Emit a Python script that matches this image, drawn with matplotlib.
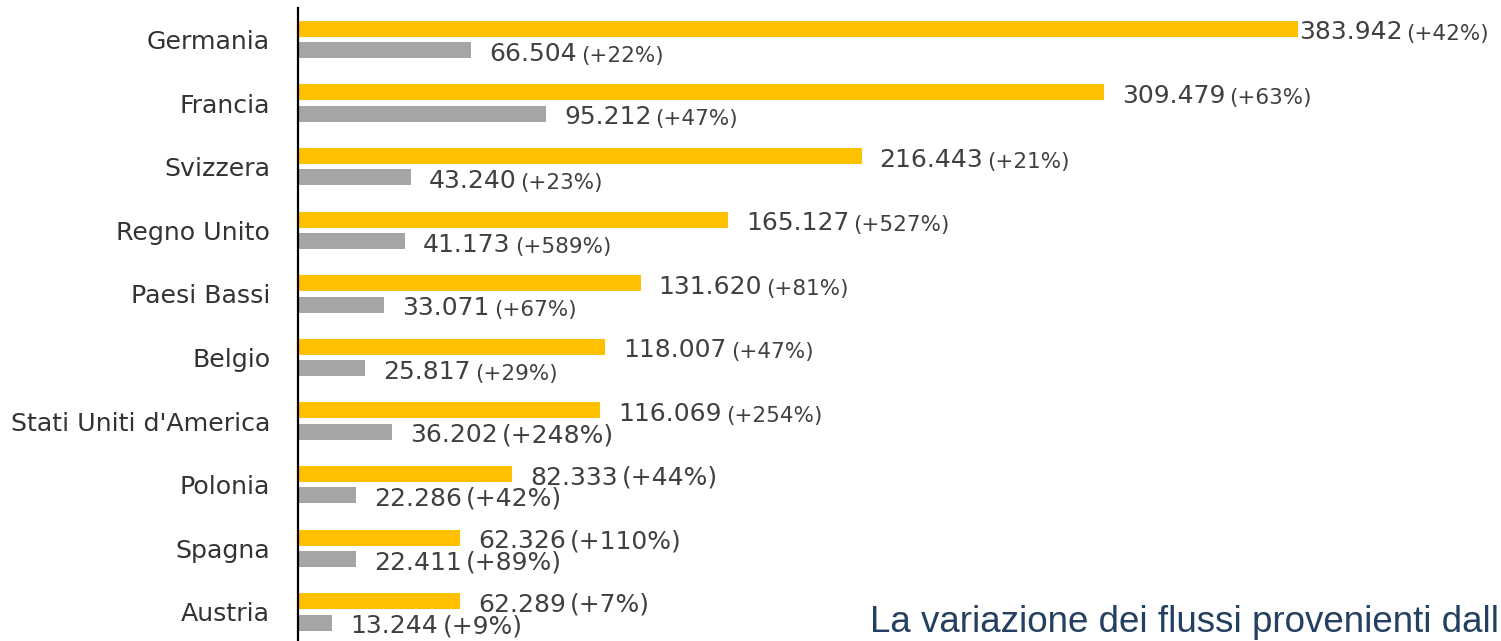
import matplotlib.pyplot as plt

countries = ["Germania", "Francia", "Svizzera", "Regno Unito", "Paesi Bassi",
             "Belgio", "Stati Uniti d'America", "Polonia", "Spagna", "Austria"]
arrivi = [383942, 309479, 216443, 165127, 131620, 118007, 116069, 82333, 62326, 62289]
arrivi_var = [42, 63, 21, 527, 81, 47, 254, 44, 110, 7]
presenze = [66504, 95212, 43240, 41173, 33071, 25817, 36202, 22286, 22411, 13244]
presenze_var = [22, 47, 23, 589, 67, 29, 248, 42, 89, 9]

YELLOW = "#FFC000"
GREY = "#A5A5A5"
TXT = "#404040"

# percent part is drawn smaller in the upper rows, same size in the lower ones
pct_small_y = [True] * 7 + [False] * 3
pct_small_g = [True] * 6 + [False] * 4


def fmt(v):
    return f"{v:,}".replace(",", ".")


fig = plt.figure(figsize=(15.01, 6.41), dpi=100)
ax = fig.add_axes([298 / 1501, 0, 1 - 298 / 1501, 1 - 8 / 641])

pos = list(range(len(countries)))
off = 0.168
h = 0.25
ax.barh([p - off for p in pos], arrivi, height=h, color=YELLOW)
ax.barh([p + off for p in pos], presenze, height=h, color=GREY)

ax.set_xlim(0, 462000)
ax.set_ylim(9.457, -0.495)

ax.set_yticks(pos)
ax.set_yticklabels(countries, fontsize=18.2, color="#333333", family="DejaVu Sans")
ax.tick_params(axis="y", length=0, pad=20)
ax.set_xticks([])
for s in ["top", "right", "bottom"]:
    ax.spines[s].set_visible(False)
ax.spines["left"].set_linewidth(1.6)
ax.spines["left"].set_color("black")


def add_label(x, y, value, var, small, gap_px):
    num = ax.annotate(fmt(value), xy=(x, y), xytext=(gap_px * 0.72, -7.6),
                      textcoords="offset points", ha="left", va="baseline",
                      fontsize=18, color=TXT, family="DejaVu Sans")
    ax.annotate(f"(+{var}%)", xy=(1, 0), xycoords=num, xytext=(3, 0),
                textcoords="offset points", ha="left", va="bottom",
                fontsize=15.5 if small else 18, color=TXT, family="DejaVu Sans")


for i in pos:
    add_label(arrivi[i], i - off, arrivi[i], arrivi_var[i], pct_small_y[i], 1 if i == 0 else 18)
    add_label(presenze[i], i + off, presenze[i], presenze_var[i], pct_small_g[i], 18)

fig.text(870 / 1501, 9 / 641, "La variazione dei flussi provenienti dall",
         fontsize=26.5, color="#243F60", family="Liberation Sans",
         ha="left", va="baseline")

fig.savefig("out.png", dpi=100)
